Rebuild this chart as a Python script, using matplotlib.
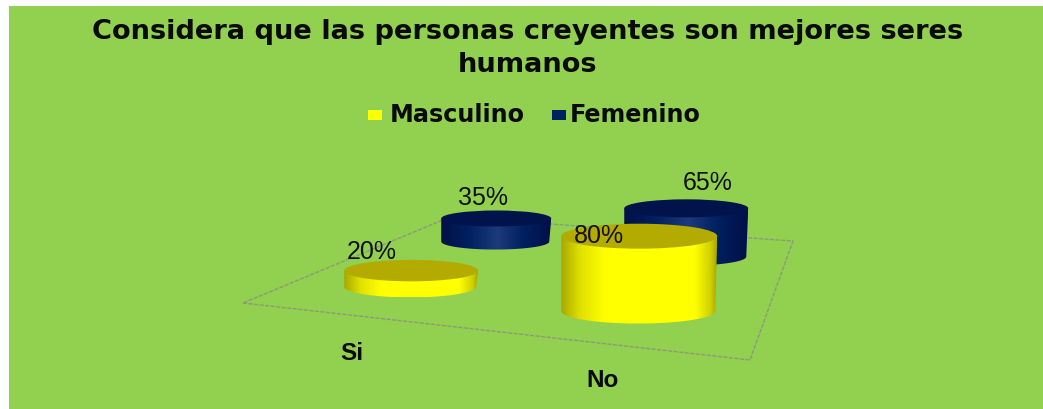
import numpy as np
import matplotlib
matplotlib.use('Agg')
import matplotlib.pyplot as plt
from matplotlib.colors import LinearSegmentedColormap
from matplotlib.patches import Ellipse, PathPatch, Rectangle
from matplotlib.path import Path

TITLE_LINES = ['Considera que las personas creyentes son mejores seres', 'humanos']
CATEGORIES = ['Si', 'No']
SERIES = ['Masculino', 'Femenino']
MASCULINO = [20, 80]
FEMENINO = [35, 65]

W, H = 1043, 410
BG = '#92D050'
TEXT_COL = '#0A0A0A'

# floor of the fake 3d box, in pixels
FL, FR, BR, BL = (243, 304), (750, 361), (793, 242), (450, 218)
LIFT = 8  # cylinders sit a bit above the floor
NUDGE = {(0, 0): (0, 1), (1, 0): (-5, 1), (0, 1): (2, 3), (1, 1): (0, 2)}
RADIUS = {(0, 0): 67, (1, 0): 78, (0, 1): 55, (1, 1): 62}
FLAT = {0: 0.16, 1: 0.145}
HEIGHT_K = 0.012

TOP_COL = {0: '#B3AB00', 1: '#00134A'}
SIDE_COLS = {
    0: [(0, '#A8A800'), (0.12, '#E0E000'), (0.28, '#FFFF00'), (0.86, '#FFFF00'), (0.96, '#D0D000'), (1, '#A8A800')],
    1: [(0, '#001048'), (0.25, '#00205F'), (0.52, '#1C3A7C'), (0.75, '#00205F'), (1, '#001048')],
}
LABEL_OFF = {(0, 0): (-39, -20), (0, 1): (-13, -21), (1, 0): (-40, -1), (1, 1): (21, -26)}


def floor_point(u, v):
    fx = FL[0] + u * (FR[0] - FL[0])
    fy = FL[1] + u * (FR[1] - FL[1])
    bx = BL[0] + u * (BR[0] - BL[0])
    by = BL[1] + u * (BR[1] - BL[1])
    return fx + v * (bx - fx), fy + v * (by - fy)


def draw_cylinder(ax, cat, ser, value):
    x, y = floor_point(0.25 + 0.5 * cat, 0.25 + 0.5 * ser)
    x += NUDGE[(cat, ser)][0]
    y += NUDGE[(cat, ser)][1] - LIFT
    a = RADIUS[(cat, ser)]
    b = a * FLAT[ser]
    top_y = y - HEIGHT_K * a * value
    z = 3 - ser + cat

    # side surface: gradient clipped to the outline
    t = np.linspace(0, np.pi, 60)
    verts = np.vstack([np.column_stack([x - 1 + (a - 1) * np.cos(t), y + b * np.sin(t)]),
                       [[x - a, top_y]], [[x + a, top_y]]])
    outline = Path(np.vstack([verts, verts[:1]]), closed=True)
    clip = PathPatch(outline, facecolor='none', edgecolor='none', transform=ax.transData)
    ax.add_patch(clip)
    cmap = LinearSegmentedColormap.from_list('side', SIDE_COLS[ser])
    grad = np.linspace(0, 1, 256).reshape(1, -1)
    im = ax.imshow(grad, cmap=cmap, extent=(x - a, x + a, y + b, top_y), aspect='auto',
                   interpolation='bilinear', zorder=z)
    im.set_clip_path(clip)
    ax.add_patch(Ellipse((x, top_y), 2 * a, 2 * b, facecolor=TOP_COL[ser], edgecolor='none', zorder=z + 0.1))

    off = LABEL_OFF[(cat, ser)]
    ax.text(x + off[0], top_y + off[1], f'{value}%', ha='center', va='center', fontsize=18,
            family='Liberation Sans', color='#111111', zorder=10)


def main():
    fig = plt.figure(figsize=(W / 100, H / 100), dpi=100, facecolor='white')
    ax = fig.add_axes([0, 0, 1, 1])
    ax.axis('off')
    ax.add_patch(Rectangle((9, 7), W - 9, H - 7, facecolor=BG, edgecolor='none', zorder=0))

    for line, y in zip(TITLE_LINES, [32, 65]):
        ax.text(528, y, line, ha='center', va='center', fontsize=19.6, fontweight='bold',
                family='DejaVu Sans', color=TEXT_COL)

    # legend
    for swatch_x, text_x, name, col in [(368, 390, SERIES[0], '#FFFF00'), (552, 570, SERIES[1], '#00205F')]:
        ax.add_patch(Rectangle((swatch_x, 111), 14, 10, facecolor=col, edgecolor='none'))
        ax.text(text_x, 115, name, ha='left', va='center', fontsize=17.2, fontweight='bold',
                family='DejaVu Sans', color=TEXT_COL)

    floor = np.array([FL, FR, BR, BL, FL])
    ax.plot(floor[:, 0], floor[:, 1], color='#8C9A78', lw=1, ls=(0, (3, 1)), zorder=1)

    for cat in range(2):
        draw_cylinder(ax, cat, 1, FEMENINO[cat])
    for cat in range(2):
        draw_cylinder(ax, cat, 0, MASCULINO[cat])

    ax.set_xlim(0, W)
    ax.set_ylim(H, 0)
    ax.text(352, 354, CATEGORIES[0], ha='center', va='center', fontsize=17.5, fontweight='bold',
            family='Liberation Sans', color=TEXT_COL)
    ax.text(603, 381, CATEGORIES[1], ha='center', va='center', fontsize=17.5, fontweight='bold',
            family='Liberation Sans', color=TEXT_COL)
    fig.savefig('out.png', dpi=100, facecolor='white')


if __name__ == '__main__':
    main()
